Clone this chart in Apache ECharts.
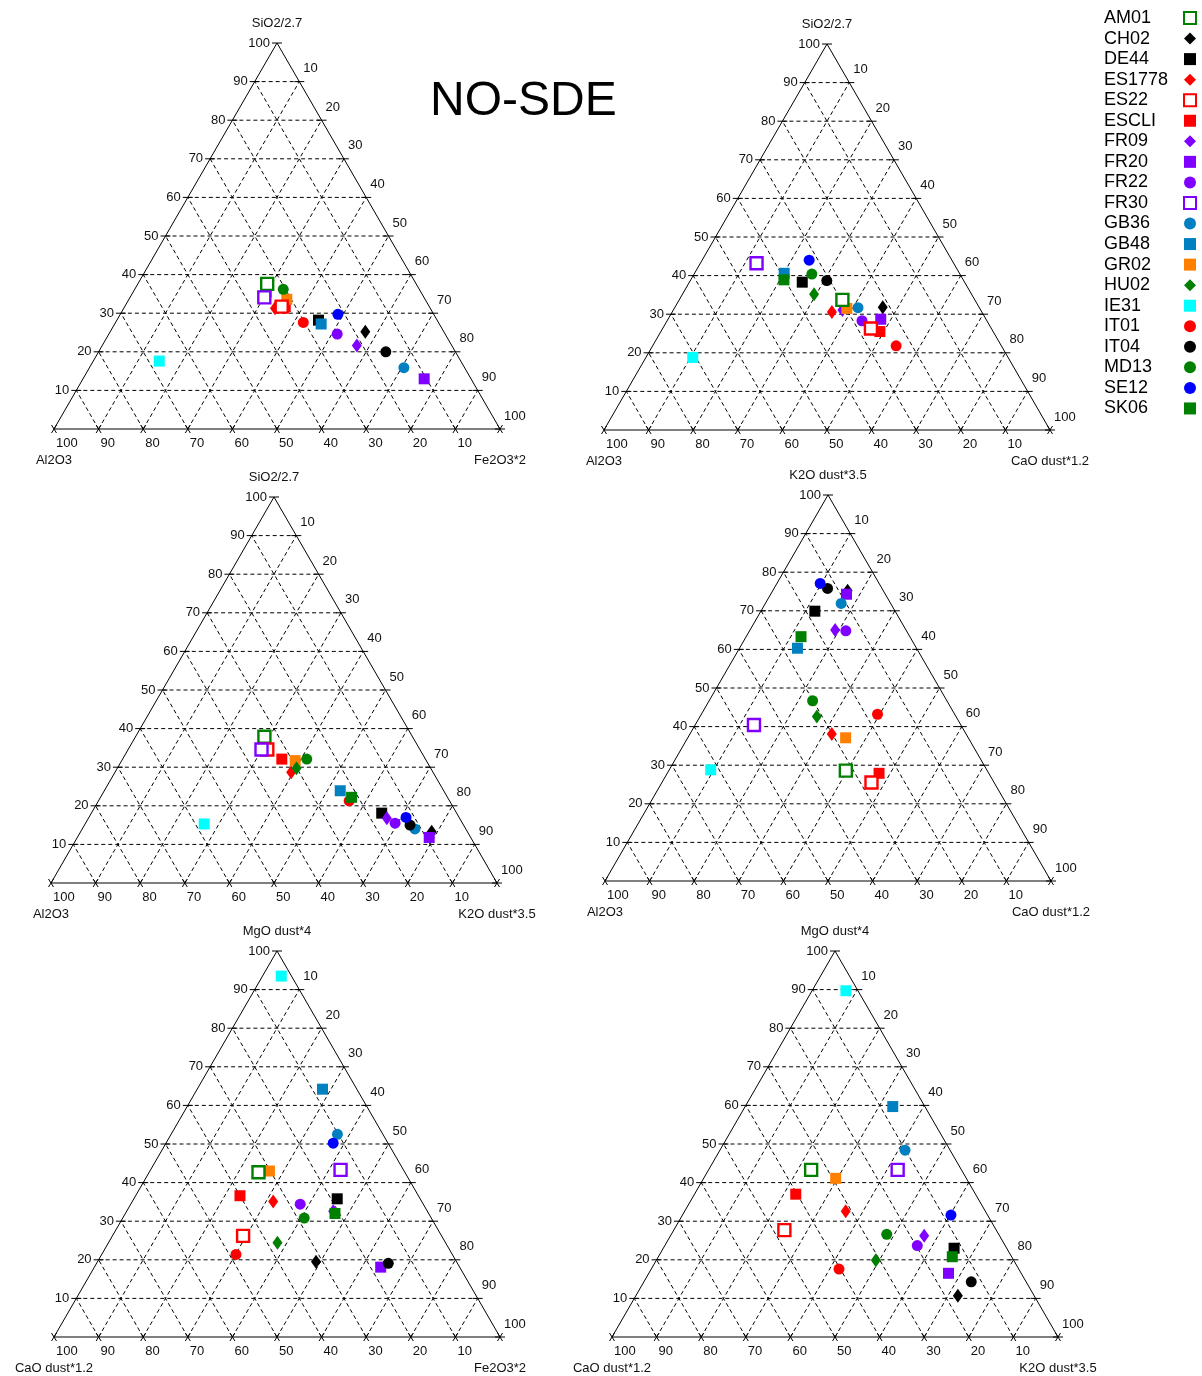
<!DOCTYPE html>
<html>
<head>
<meta charset="utf-8">
<script src="https://cdn.jsdelivr.net/npm/echarts@6/dist/echarts.min.js"></script>
<style>
html, body { margin: 0; padding: 0; background: #fff; }
#main { width: 1202px; height: 1376px; }
</style>
</head>
<body>
<div id="main"></div>
<script>
var samples = ['AM01', 'CH02', 'DE44', 'ES1778', 'ES22', 'ESCLI', 'FR09', 'FR20', 'FR22', 'FR30',
	'GB36', 'GB48', 'GR02', 'HU02', 'IE31', 'IT01', 'IT04', 'MD13', 'SE12', 'SK06'];
var colors = ['#008000', '#000000', '#000000', '#ff0000', '#ff0000', '#ff0000', '#8000ff', '#8000ff', '#8000ff', '#8000ff',
	'#0080c0', '#0080c0', '#ff8000', '#008000', '#00ffff', '#ff0000', '#000000', '#008000', '#0000ff', '#008000'];
var shapes = ['hollow', 'diamond', 'rect', 'diamond', 'hollow', 'rect', 'diamond', 'rect', 'circle', 'hollow',
	'circle', 'rect', 'rect', 'diamond', 'rect', 'circle', 'circle', 'circle', 'circle', 'rect'];

// ternary values per sample: [top, left, right] in %
var siAlFe = [[37.6, 33.4, 29.0], [25.2, 17.6, 57.2], [28.2, 26.6, 45.2], [31.3, 34.8, 33.9], [31.7, 33.1, 35.2],
	[31.7, 32.3, 36.0], [21.6, 21.3, 57.1], [13.0, 10.5, 76.5], [24.6, 24.2, 51.2], [34.1, 35.8, 30.1],
	[15.9, 13.6, 70.5], [27.2, 26.5, 46.3], [33.6, 31.0, 35.4], [35.2, 35.6, 29.2], [17.6, 67.6, 14.8],
	[27.6, 30.3, 42.1], [20.0, 15.6, 64.4], [36.2, 30.5, 33.3], [29.7, 21.5, 48.8], [35.5, 34.7, 29.8]];
var siAlCa = [[33.7, 29.7, 36.6], [31.8, 21.6, 46.6], [38.3, 36.4, 25.3], [30.6, 33.6, 35.8], [26.3, 27.0, 46.7],
	[25.5, 25.4, 49.1], [31.1, 31.0, 37.9], [28.7, 23.6, 47.7], [28.3, 28.0, 43.7], [43.2, 44.2, 12.6],
	[31.7, 27.2, 41.1], [40.6, 39.3, 20.1], [31.5, 29.8, 38.7], [35.2, 35.3, 29.5], [18.8, 70.7, 10.5],
	[21.8, 23.6, 54.6], [38.7, 30.7, 30.6], [40.4, 33.2, 26.4], [44.0, 32.0, 24.0], [38.9, 40.2, 20.9]];
var siAlK = [[37.9, 33.2, 28.9], [13.3, 8.0, 78.7], [18.1, 16.8, 65.1], [28.7, 31.8, 39.5], [34.6, 34.2, 31.2],
	[32.1, 32.2, 35.7], [16.8, 16.3, 66.9], [11.8, 9.3, 78.9], [15.5, 15.1, 69.4], [34.6, 35.5, 29.9],
	[14.0, 11.4, 74.6], [23.9, 23.2, 52.9], [31.7, 29.4, 38.9], [29.7, 30.1, 40.2], [15.3, 58.0, 26.7],
	[21.3, 22.5, 56.2], [15.0, 12.0, 73.0], [32.1, 26.6, 41.3], [17.0, 11.9, 71.1], [22.2, 21.5, 56.3]];
var kAlCa = [[28.6, 31.7, 39.7], [75.2, 8.0, 16.8], [69.9, 18.0, 12.1], [38.1, 30.1, 31.8], [25.5, 27.5, 47.0],
	[27.9, 24.6, 47.5], [65.0, 15.9, 19.1], [74.3, 8.7, 17.0], [64.8, 13.6, 21.6], [40.4, 46.4, 13.2],
	[71.9, 11.1, 17.0], [60.3, 26.7, 13.0], [37.1, 27.5, 35.4], [42.6, 31.2, 26.2], [28.8, 61.9, 9.3],
	[43.2, 17.3, 39.5], [75.8, 12.2, 12.0], [46.7, 30.1, 23.2], [77.1, 13.2, 9.7], [63.3, 24.4, 12.3]];
var mgCaFe = [[42.7, 32.8, 24.5], [19.5, 31.5, 49.0], [35.8, 18.6, 45.6], [35.1, 33.3, 31.6], [26.2, 44.5, 29.3],
	[36.6, 40.0, 23.4], [32.6, 21.1, 46.3], [18.1, 17.7, 64.2], [34.4, 27.6, 38.0], [43.3, 14.1, 42.6],
	[52.5, 10.2, 37.3], [64.2, 7.7, 28.1], [43.0, 30.2, 26.8], [24.4, 37.7, 37.9], [93.5, 2.3, 4.2],
	[21.4, 48.5, 30.1], [19.1, 15.5, 65.4], [30.8, 28.5, 40.7], [50.2, 12.3, 37.5], [32.0, 21.0, 47.0]];
var mgCaK = [[43.3, 33.7, 23.0], [10.7, 17.1, 72.2], [23.0, 11.8, 65.2], [32.6, 31.3, 36.1], [27.7, 47.5, 24.8],
	[37.0, 40.3, 22.7], [26.2, 16.9, 56.9], [16.5, 16.3, 67.2], [23.7, 19.7, 56.6], [43.3, 14.3, 42.4],
	[48.4, 10.1, 41.5], [59.7, 7.2, 33.1], [41.1, 29.3, 29.6], [19.9, 30.9, 49.2], [89.7, 2.7, 7.6],
	[17.6, 40.3, 42.1], [14.3, 12.3, 73.4], [26.6, 25.1, 48.3], [31.6, 8.2, 60.2], [20.8, 13.3, 65.9]];

var ticks = [10, 20, 30, 40, 50, 60, 70, 80, 90, 100];

var diagrams = [
	{data: siAlFe, names: ['SiO2/2.7', 'Al2O3', 'Fe2O3*2'], pos: [54, 43]},
	{data: siAlCa, names: ['SiO2/2.7', 'Al2O3', 'CaO dust*1.2'], pos: [604, 44]},
	{data: siAlK, names: ['SiO2/2.7', 'Al2O3', 'K2O dust*3.5'], pos: [51, 497]},
	{data: kAlCa, names: ['K2O dust*3.5', 'Al2O3', 'CaO dust*1.2'], pos: [605, 495]},
	{data: mgCaFe, names: ['MgO dust*4', 'CaO dust*1.2', 'Fe2O3*2'], pos: [54, 951]},
	{data: mgCaK, names: ['MgO dust*4', 'CaO dust*1.2', 'K2O dust*3.5'], pos: [612, 951]}
];

var S = Math.sqrt(3) / 2;
var FONT = '"Liberation Sans", Arial, sans-serif';

// ternary [top, left, right] -> cartesian (left corner at origin, side 100)
function toXY(v) {
	return [v[2] + v[0] / 2, v[0] * S];
}

function frame(names) {
	return function (params, api) {
		function pt(a, c) { return api.coord([c + a / 2, a * S]); }
		var kids = [];
		var solid = {stroke: '#000', lineWidth: 1};
		var dash = {stroke: '#000', lineWidth: 1, lineDash: [4, 3]};
		function seg(p, q, st) {
			kids.push({type: 'line', shape: {x1: p[0], y1: p[1], x2: q[0], y2: q[1]}, style: st});
		}
		function txt(s, x, y, al) {
			kids.push({type: 'text', x: x, y: y, style: {
				text: String(s), fill: '#111', font: '13px ' + FONT,
				align: al, textAlign: al, verticalAlign: 'middle', textVerticalAlign: 'middle'
			}});
		}
		// dashed grid
		ticks.forEach(function (k) {
			if (k === 100) return;
			seg(pt(k, 0), pt(k, 100 - k), dash);
			seg(pt(0, k), pt(100 - k, k), dash);
			seg(pt(0, 100 - k), pt(100 - k, 0), dash);
		});
		var L = pt(0, 0), R = pt(0, 100), T = pt(100, 0);
		seg(L, R, solid);
		seg(R, T, solid);
		seg(T, L, solid);
		// ticks and labels
		ticks.forEach(function (k) {
			var p = pt(k, 0);
			seg([p[0] - 5, p[1]], [p[0] + 5, p[1]], solid);
			txt(k, p[0] - 7, p[1], 'right');
			var q = pt(100 - k, k);
			seg([q[0] - 5, q[1]], [q[0] + 5, q[1]], solid);
			txt(k, q[0] + 4, q[1] - 13, 'left');
			var r = pt(0, 100 - k);
			seg([r[0] - 2.5, r[1] + 4], [r[0] + 2.5, r[1] - 4], solid);
			seg([r[0] + 2.5, r[1] + 4], [r[0] - 2.5, r[1] - 4], solid);
			txt(k, r[0] + 2, r[1] + 14, 'left');
		});
		seg([R[0] - 2.5, R[1] + 4], [R[0] + 2.5, R[1] - 4], solid);
		seg([R[0] + 2.5, R[1] + 4], [R[0] - 2.5, R[1] - 4], solid);
		txt(names[0], T[0], T[1] - 20, 'center');
		txt(names[1], L[0], L[1] + 31, 'center');
		txt(names[2], R[0], R[1] + 31, 'center');
		return {type: 'group', children: kids};
	};
}

function symbolOf(i) {
	var s = shapes[i];
	if (s === 'hollow') return {symbol: 'rect', symbolSize: 12, itemStyle: {color: '#fff', borderColor: colors[i], borderWidth: 2.4, opacity: 1}, z: 4};
	if (s === 'diamond') return {symbol: 'diamond', symbolSize: [10, 14], itemStyle: {color: colors[i], opacity: 1}, z: 3};
	if (s === 'circle') return {symbol: 'circle', symbolSize: 11, itemStyle: {color: colors[i], opacity: 1}, z: 3};
	return {symbol: 'rect', symbolSize: 11, itemStyle: {color: colors[i], opacity: 1}, z: 3};
}

var grids = [], xAxes = [], yAxes = [], series = [];
diagrams.forEach(function (d, gi) {
	grids.push({left: d.pos[0], top: d.pos[1], width: 446, height: 386});
	xAxes.push({gridIndex: gi, type: 'value', min: 0, max: 100, show: false});
	yAxes.push({gridIndex: gi, type: 'value', min: 0, max: 100 * S, show: false});
	series.push({
		type: 'custom', xAxisIndex: gi, yAxisIndex: gi, data: [[0, 0]],
		renderItem: frame(d.names), silent: true, clip: false, z: 1
	});
	samples.forEach(function (name, si) {
		var sym = symbolOf(si);
		series.push({
			type: 'scatter', name: name, xAxisIndex: gi, yAxisIndex: gi,
			symbol: sym.symbol, symbolSize: sym.symbolSize, itemStyle: sym.itemStyle, z: sym.z,
			data: [toXY(d.data[si])]
		});
	});
});

echarts.init(document.getElementById('main')).setOption({
	animation: false,
	backgroundColor: '#fff',
	title: {
		text: 'NO-SDE', left: 425, top: 73,
		textStyle: {fontSize: 48, fontWeight: 'normal', color: '#000', fontFamily: FONT}
	},
	legend: {
		data: samples, orient: 'vertical', left: 1099, top: 4, align: 'right',
		itemWidth: 12, itemHeight: 12, itemGap: 2.55, selectedMode: false,
		formatter: '{n|{name}}',
		textStyle: {
			fontSize: 18, color: '#000', fontFamily: FONT,
			rich: {n: {width: 75, align: 'left', fontSize: 18, lineHeight: 20, color: '#000', fontFamily: FONT}}
		}
	},
	grid: grids,
	xAxis: xAxes,
	yAxis: yAxes,
	series: series
});
</script>
</body>
</html>
